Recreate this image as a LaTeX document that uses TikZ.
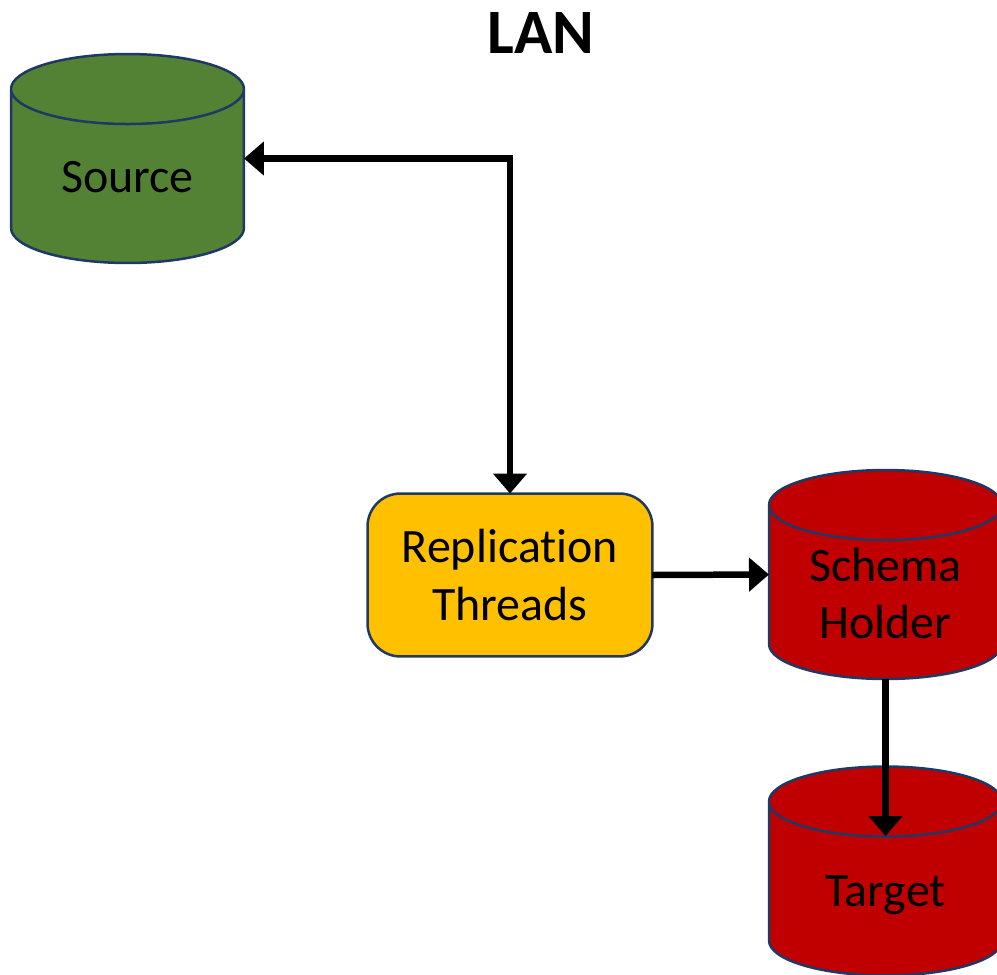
\documentclass[tikz,border=0pt]{standalone}
\usepackage{fontspec}
\setmainfont{Carlito}[Ligatures=NoCommon]
\usetikzlibrary{arrows.meta,shapes.geometric}
\definecolor{edgeblue}{HTML}{1F3864}
\definecolor{sourcegreen}{HTML}{548235}
\definecolor{targetred}{HTML}{C00000}
\definecolor{threadyellow}{HTML}{FFC000}
\tikzset{
	dbase/.style={draw=edgeblue, line width=0.05cm, cylinder, anchor=shape center, shape border rotate=90, shape aspect=0.7, minimum width=4.66cm, minimum height=4.18cm, cylinder uses custom fill, cylinder body fill=#1, cylinder end fill=#1, fill=#1, inner xsep=1cm, inner ysep=0pt, outer sep=0pt},
	dbname/.style={yshift=0.27cm, align=center, text=black, font=\fontsize{27.3pt}{32.9pt}\selectfont},
	worker/.style={draw=edgeblue, line width=0.05cm, fill=threadyellow, rounded corners=0.66cm, minimum width=5.7cm, minimum height=3.26cm, outer sep=0pt, align=center, font=\fontsize{27.3pt}{32.9pt}\selectfont},
	link/.style={line width=0.13cm, -{Triangle[length=0.4cm, width=0.66cm]}},
	linkboth/.style={line width=0.13cm, {Triangle[length=0.4cm, width=0.66cm]}-{Triangle[length=0.4cm, width=0.66cm]}}
}
\begin{document}
\begin{tikzpicture}[x=0.02cm, y=-0.02cm]
	%%%%% FRAME %%%%%
	\clip (0, 0) rectangle (997, 974);
	
	\node[font=\fontsize{36pt}{40pt}\selectfont\bfseries] (title) at (541, 33) {LAN};
	
	%%%%% NODES %%%%%
	\node[dbase=sourcegreen, label={[dbname]center:Source}] (source) at (127.5, 158.5) {};
	\node[worker] (threads) at (510, 575) {Replication\\Threads};
	\node[dbase=targetred, label={[dbname]center:Schema\\Holder}] (holder) at (885.5, 574.5) {};
	\node[dbase=targetred, label={[dbname, yshift=-0.1cm]center:Target}] (target) at (885.5, 871) {};
	
	\coordinate (sourceport) at (source.shape center -| source.east);
	\coordinate (holderport) at (holder.shape center -| holder.west);
	\coordinate (lid) at (885.5, 836);
	
	%%%%% LINKS %%%%%
	\draw[linkboth] (sourceport) -| (threads.north);
	\draw[link] (threads.east) -- (holderport);
	\draw[link] (holder.south) -- (lid);
\end{tikzpicture}
\end{document}
